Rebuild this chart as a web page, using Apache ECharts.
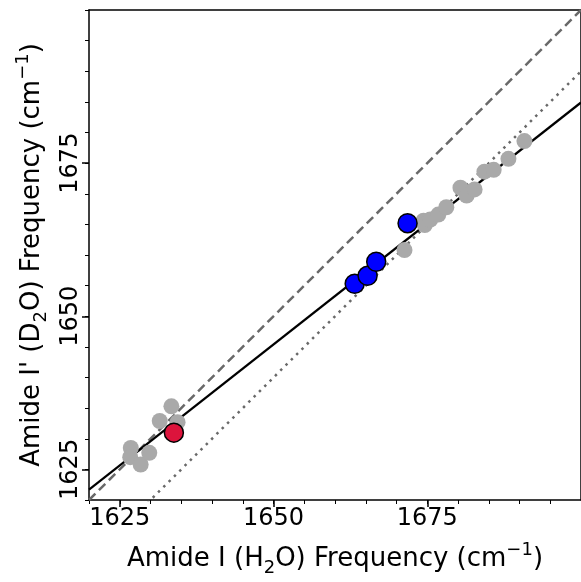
<!DOCTYPE html>
<html>
<head>
<meta charset="utf-8">
<script src="https://cdn.jsdelivr.net/npm/echarts@6/dist/echarts.min.js"></script>
<style>
  html, body { margin: 0; padding: 0; background: #fff; }
  #chart { width: 581px; height: 582px; }
</style>
</head>
<body>
<div id="chart"></div>
<script>
// data: [H2O frequency, D2O frequency]
const grayPoints = [
  [1626.8, 1628.5], [1626.7, 1627.0], [1628.4, 1625.8], [1629.8, 1627.7],
  [1631.5, 1632.9], [1633.4, 1635.3], [1634.4, 1632.7],
  [1671.3, 1660.8], [1674.4, 1665.6],
  [1674.6, 1664.9], [1675.5, 1665.8], [1676.8, 1666.6], [1678.1, 1667.8],
  [1680.4, 1671.0], [1681.4, 1669.7], [1682.7, 1670.7], [1684.3, 1673.6],
  [1685.8, 1673.9], [1688.2, 1675.7], [1690.8, 1678.6]
]
const bluePoints = [
  [1663.2, 1655.3], [1665.3, 1656.6], [1666.7, 1658.9], [1671.8, 1665.2]
]
const redPoints = [
  [1633.8, 1631.0]
]
const axisRange = [1620, 1700]
const majorTicks = [1625, 1650, 1675]
// lines y = a * x + b
const fitLine = { a: 0.79, b: 1621.7 - 0.79 * 1620 }
const identityLine = { a: 1, b: 0 }
const offsetLine = { a: 1, b: -10 }

function lineData(l) {
  return axisRange.map(x => [x, l.a * x + l.b])
}

const font = 'DejaVu Sans'
const chart = echarts.init(document.getElementById('chart'))

const mainAxis = (isX) => ({
  type: 'value',
  min: axisRange[0],
  max: axisRange[1],
  position: isX ? 'bottom' : 'left',
  axisLine: { show: true, onZero: false, lineStyle: { color: '#000', width: 1.5 } },
  axisTick: { show: true, customValues: majorTicks, length: 7, lineStyle: { color: '#000', width: 1.5 } },
  axisLabel: {
    customValues: majorTicks,
    formatter: v => String(v),
    fontFamily: font, fontSize: 24, color: '#000',
    margin: isX ? 7 : 6,
    rotate: isX ? 0 : 90
  },
  splitLine: { show: false },
  nameLocation: 'middle',
  nameGap: isX ? 44 : 42,
  name: isX
    ? '{a|Amide I (H}{s|2}{a|O) Frequency (cm}{p|\u22121}{a|)}'
    : "{a|Amide I' (D}{s|2}{a|O) Frequency (cm}{p|\u22121}{a|)}",
  nameTextStyle: {
    fontFamily: font, fontSize: 26, color: '#000',
    rich: {
      a: { fontFamily: font, fontSize: 26, color: '#000', lineHeight: 30, verticalAlign: 'middle' },
      s: { fontFamily: font, fontSize: 18, color: '#000', lineHeight: 30, verticalAlign: 'bottom', padding: [0, 0, -3, 0] },
      p: { fontFamily: font, fontSize: 18, color: '#000', lineHeight: 30, verticalAlign: 'top', padding: [-3, 0, 0, 0] }
    }
  }
})

const minorAxis = (isX) => ({
  type: 'value',
  min: axisRange[0],
  max: axisRange[1],
  interval: 5,
  position: isX ? 'bottom' : 'left',
  axisLine: { show: false, onZero: false },
  axisTick: { show: true, length: 4, lineStyle: { color: '#000', width: 1 } },
  axisLabel: { show: false },
  splitLine: { show: false }
})

const frameAxis = (isX) => ({
  type: 'value',
  min: axisRange[0],
  max: axisRange[1],
  position: isX ? 'top' : 'right',
  axisLine: { show: true, onZero: false, lineStyle: { color: '#000', width: 1.5 } },
  axisTick: { show: false },
  axisLabel: { show: false },
  splitLine: { show: false }
})

const option = {
  animation: false,
  grid: { left: 89, top: 10, width: 494, height: 496, containLabel: false },
  xAxis: [mainAxis(true), minorAxis(true), frameAxis(true)],
  yAxis: [mainAxis(false), minorAxis(false), frameAxis(false)],
  series: [
    {
      type: 'line', data: lineData(identityLine), showSymbol: false, z: 1,
      lineStyle: { color: '#696969', width: 2.5, type: [9, 5] }
    },
    {
      type: 'line', data: lineData(offsetLine), showSymbol: false, z: 1,
      lineStyle: { color: '#696969', width: 2.5, type: [2.5, 5] }
    },
    {
      type: 'line', data: lineData(fitLine), showSymbol: false, z: 1,
      lineStyle: { color: '#000', width: 2.2 }
    },
    {
      type: 'scatter', data: grayPoints, symbolSize: 16, z: 2,
      itemStyle: { color: '#a9a9a9', opacity: 1 }
    },
    {
      type: 'scatter', data: bluePoints, symbolSize: 19, z: 3,
      itemStyle: { color: '#0000ff', borderColor: '#000', borderWidth: 1.5, opacity: 1 }
    },
    {
      type: 'scatter', data: redPoints, symbolSize: 19, z: 3,
      itemStyle: { color: '#dc143c', borderColor: '#000', borderWidth: 1.5, opacity: 1 }
    }
  ]
}

chart.setOption(option)
</script>
</body>
</html>
